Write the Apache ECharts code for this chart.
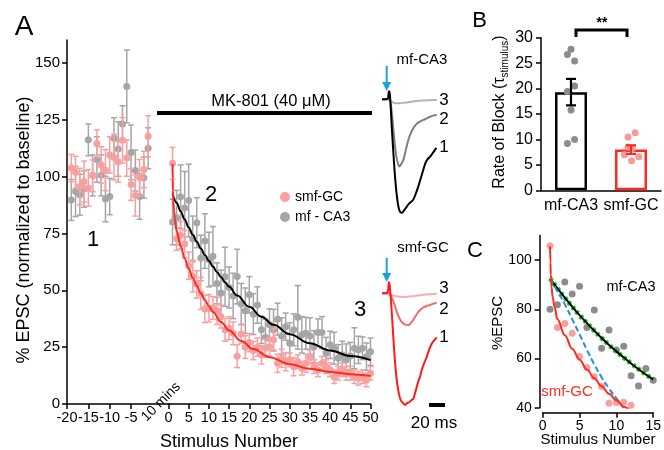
<!DOCTYPE html>
<html><head><meta charset="utf-8">
<script src="https://cdn.jsdelivr.net/npm/echarts@6/dist/echarts.min.js"></script>
<style>html,body{margin:0;padding:0;background:#fff}#c{width:664px;height:450px}</style>
</head><body><div id="c"></div>
<script>
var FONT = 'Liberation Sans, Arial, Helvetica, sans-serif';
function rng(a, b) { var r = []; for (var i = a; i <= b; i++) r.push(i); return r; }

// ---------- Panel A : baseline (before MK-801) ----------
var baseX = rng(-19, -1);
var baseCA3 = [89.7,93.4,92.0,94.5,116.1,100.5,107.5,100.5,90.1,91.2,116.8,112.1,123.1,139.6,110.6,102.6,91.2,99.5,112.4];
var baseCA3Err = [9,11,9,8,7,9,10,9,10,8,9,12,8,16,12,9,10,9,9];
var baseGC = [103.7,101.9,95.6,97.8,95.0,100.3,114.5,105.1,102.8,109.5,108.5,106.5,115.9,108.1,96.5,91.6,99.5,103.1,117.7];
var baseGCErr = [6,7,8,9,8,7,6,8,9,8,10,9,10,8,7,9,8,8,9];
var baseTicks = [-20, -15, -10, -5];

// ---------- Panel A : MK-801 stimuli ----------
var stimX = rng(1, 50);
var mfCA3 = [80.0,81.9,91.1,86.2,89.4,72.6,79.7,64.2,71.6,63.5, 65.0,53.0,48.8,55.9,51.2,47.5,56.0,44.0,41.0,48.0,
             39.5,43.5,32.6,29.3,34.8,32.6,37.3,29.9,34.0,26.7, 32.6,38.1,30.4,31.1,29.9,25.2,31.4,31.4,22.3,26.0,
             24.5,20.1,21.6,19.4,21.1,24.5,23.8,24.5,20.8,23.0];
var mfCA3Err = [10,12,14,16,16,10,11,10,12,12, 13,9,10,13,9,10,12,9,10,8, 9,8,6,8,7,9,7,8,6,9, 7,14,8,7,8,7,6,7,7,6, 7,6,6,7,6,9,6,5,6,6];
var smfGC = [105.8,72.6,74.2,70.3,60.8,56.3,52.6,48.6,41.8,42.1, 42.2,41.0,38.4,32.6,33.3,31.1,21.0,30.8,25.0,27.0,
             23.5,25.0,21.6,24.5,25.2,28.2,17.9,20.1,18.6,19.4, 16.4,18.6,15.7,17.9,20.6,16.4,15.0,17.9,16.4,15.0,
             12.0,13.5,15.0,13.5,13.5,12.0,11.3,12.0,10.6,13.5];
var smfGCErr = [7,5,6,6,6,7,6,7,6,6, 5,6,5,5,5,5,5,4,5,4, 4,4,4,4,4,5,4,4,4,3, 4,3,3,4,3,3,3,3,3,3, 3,3,3,3,3,3,3,3,3,3];

var fitCA3X = [1,2,3,4,5,6,7,8,9,10,11,12,13,14,15,17,20,23,26,30,35,40,45,50];
var fitCA3Y = [92.5,88.5,84.7,81.1,77.6,74.4,71.3,68.3,65.5,62.9,60.4,58.0,55.7,53.5,51.5,47.7,42.7,38.4,34.8,30.7,26.7,23.5,21.1,19.3];
var fitGCX = [1,1.05,1.1,1.2,1.35,1.6,2,3,4,5,6,7,8,9,10,11,13,15,18,21,25,30,35,40,45,50];
var fitGCY = [105.5,99,94,89,85,81,76,69.5,64,59.5,55.5,52,48.7,45.7,43,40.4,36,32.3,27.7,24.2,20.6,17.5,15.5,14.1,13.1,12.3];
var yTicksA = [0, 25, 50, 75, 100, 125, 150];

// ---------- Panel B ----------
var barCats = ['mf-CA3', 'smf-GC'];
var barMean = [19.3, 8.0];
var barSem = [2.6, 0.85];
var dotsCA3 = [27.75, 26.7, 25.4, 20.5, 19.4, 15.8, 10.0, 9.2];
var dotsCA3Jit = [0, -0.06, 0.06, 0.06, -0.06, 0, 0.06, -0.06];
var dotsGC = [11.3, 10.5, 8.5, 8.2, 7.0, 6.6, 5.8];
var dotsGCJit = [0.07, -0.05, -0.05, 0.02, -0.11, 0.13, 0.01];

// ---------- Panel C ----------
var cN = 15;
var monoX = [1,2,3,4,5,6,7,8,9,10,11];
var monoY = [92.5,87.3,82.1,76,69.8,63.5,57.6,52.3,47.8,43.8,39.9];
var yTicksC = [40, 60, 80, 100];

// ---------- example traces (ms, % of peak) ----------
var caT1 = [0,4,7.5,8.5,9.5,10.5,12,14,16,18,20,22,24.5,27,30,33,36,39,42,45,48,51,54,57,60,63,66,68];
var caV1 = [0,0,1,7,6,-2,-22,-45,-66,-82,-93,-99,-100.5,-99,-96,-93,-91,-89,-84,-78,-71,-64,-57,-53,-51,-48,-45,-43];
var caT2 = [0,8,10,12,14,16,18,20,21.6,23.5,26.7,30,32.9,36,39.1,43,47,51.6,56,60,64,68.4];
var caV2 = [0,0,-1,-10,-25,-40,-51,-57,-59.6,-58,-53.7,-44,-36,-30,-25.7,-22,-20,-18.3,-17,-15.5,-14.5,-14];
var caT3 = [0,8,10,13,17,22.5,28,35,43,50,58,68.4];
var caV3 = [0,0,-1,-2.5,-3.5,-3.5,-3,-2.5,-1.5,-1.2,-0.8,-0.6];
var gcT1 = [0,4,7.5,8.5,9.5,10.5,12,14,16,18,20,22,24,26.6,28.8,31,34,37,39.1,42,45,47.5,50,53,55.8,59,62,65,68.4];
var gcV1 = [0,0,2,10,8,0,-15,-38,-60,-76,-87,-94,-98,-100,-101.5,-100,-99,-97,-96,-89,-81,-76,-69,-63,-58,-51,-46,-43,-40];
var gcT2 = [0,8,10,13,16,19,22,24.5,26.6,29,32.9,36,39.1,43,47.5,52,56,60,64,68.4];
var gcV2 = [0,0,-1,-5,-11,-18,-23,-26,-27.3,-28.5,-28.8,-27,-24.2,-19.5,-15.2,-12.8,-11.5,-10.6,-9.5,-8.5];
var gcT3 = [0,8,10,14,20,26.6,33,40,50,60,68.4];
var gcV3 = [0,0,-1,-2,-3,-3.3,-3,-2.5,-1.6,-0.8,-0.3];

// ---------- helpers ----------
function pairs(xs, ys) { return xs.map(function (x, i) { return [x, ys[i]]; }); }
function errData(xs, ys, es) { return xs.map(function (x, i) { return [x, ys[i] - es[i], ys[i] + es[i]]; }); }
function errRender(color, cap, lw) {
  return function (params, api) {
    var x = api.value(0), p1 = api.coord([x, api.value(1)]), p2 = api.coord([x, api.value(2)]);
    var c = typeof color === 'function' ? color(params.dataIndex) : color;
    var st = { stroke: c, lineWidth: lw };
    return { type: 'group', children: [
      { type: 'line', shape: { x1: p1[0], y1: p1[1], x2: p2[0], y2: p2[1] }, style: st },
      { type: 'line', shape: { x1: p1[0] - cap, y1: p1[1], x2: p1[0] + cap, y2: p1[1] }, style: st },
      { type: 'line', shape: { x1: p2[0] - cap, y1: p2[1], x2: p2[0] + cap, y2: p2[1] }, style: st }
    ] };
  };
}
var GRAY = '#a6a6a6', PINK = '#f8a0a0', RED = '#ff2a1f';
var axisLine = { show: true, onZero: false, lineStyle: { color: '#000', width: 1.5 } };
var tick = { show: true, inside: false, length: 5, lineStyle: { color: '#000', width: 1.5 } };
function lbl(size, margin) { return { color: '#000', fontSize: size, fontFamily: FONT, margin: margin, hideOverlap: false }; }
function hiddenAxis(min, max) { return { type: 'value', min: min, max: max, show: false, splitLine: { show: false } }; }

var chart = echarts.init(document.getElementById('c'), null, { renderer: 'canvas' });
var option = {
  animation: false,
  backgroundColor: '#fff',
  textStyle: { fontFamily: FONT },
  grid: [
    { left: 67, top: 40, width: 102.5, height: 364 },       // 0 A baseline
    { left: 168.5, top: 40, width: 202, height: 364 },      // 1 A MK-801
    { left: 541, top: 37.7, width: 120, height: 152.6 },    // 2 B
    { left: 542.7, top: 235.5, width: 114, height: 172.2 }, // 3 C
    { left: 382, top: 85.7, width: 56, height: 132.2 },     // 4 trace mf-CA3
    { left: 382, top: 280.1, width: 56, height: 128.7 }     // 5 trace smf-GC
  ],
  xAxis: [
    { type: 'value', gridIndex: 0, min: -20, max: 4, splitLine: { show: false }, axisLine: axisLine,
      axisTick: Object.assign({}, tick, { customValues: baseTicks }),
      axisLabel: Object.assign(lbl(14.5, 6), { customValues: baseTicks, showMinLabel: true }) },
    { type: 'value', gridIndex: 1, min: 0, max: 50, interval: 5, splitLine: { show: false }, axisLine: axisLine,
      axisTick: tick, axisLabel: lbl(14.5, 6) },
    { type: 'category', gridIndex: 2, data: barCats, axisLine: axisLine, axisTick: { show: false },
      axisLabel: Object.assign(lbl(16, 7), { interval: 0 }) },
    Object.assign(hiddenAxis(-0.5, 1.5), { gridIndex: 2 }),
    { type: 'value', gridIndex: 3, min: 0, max: 15, interval: 5, offset: 5, splitLine: { show: false },
      axisLine: axisLine, axisTick: tick, axisLabel: lbl(14, 6) },
    Object.assign(hiddenAxis(0, 70), { gridIndex: 4 }),
    Object.assign(hiddenAxis(0, 70), { gridIndex: 5 })
  ],
  yAxis: [
    { type: 'value', gridIndex: 0, min: 0, max: 160, splitLine: { show: false }, axisLine: axisLine,
      axisTick: Object.assign({}, tick, { customValues: yTicksA }),
      axisLabel: Object.assign(lbl(15, 7), { customValues: yTicksA }) },
    Object.assign(hiddenAxis(0, 160), { gridIndex: 1 }),
    { type: 'value', gridIndex: 2, min: 0, max: 30, interval: 5, splitLine: { show: false }, axisLine: axisLine,
      axisTick: tick, axisLabel: lbl(16, 8) },
    { type: 'value', gridIndex: 3, min: 40, max: 110, offset: 3, splitLine: { show: false }, axisLine: axisLine,
      axisTick: Object.assign({}, tick, { customValues: yTicksC }),
      axisLabel: Object.assign(lbl(14, 8), { customValues: yTicksC }) },
    Object.assign(hiddenAxis(-105, 12), { gridIndex: 4 }),
    Object.assign(hiddenAxis(-105, 12), { gridIndex: 5 })
  ],
  legend: {
    data: ['smf-GC', 'mf - CA3'], orient: 'vertical', left: 275, top: 185, itemWidth: 10, itemHeight: 10,
    itemGap: 6, icon: 'circle', selectedMode: false,
    textStyle: { fontSize: 14, color: '#000', fontFamily: FONT }
  },
  series: [
    // ---- A baseline
    { type: 'custom', name: 'errCA3b', xAxisIndex: 0, yAxisIndex: 0, renderItem: errRender(GRAY, 3, 1.5),
      data: errData(baseX, baseCA3, baseCA3Err), encode: { x: 0, y: [1, 2] }, z: 2 },
    { type: 'scatter', name: 'mf - CA3', xAxisIndex: 0, yAxisIndex: 0, symbolSize: 7,
      itemStyle: { color: GRAY, opacity: 1 }, data: pairs(baseX, baseCA3), z: 3 },
    { type: 'custom', name: 'errGCb', xAxisIndex: 0, yAxisIndex: 0, renderItem: errRender(PINK, 3, 1.5),
      data: errData(baseX, baseGC, baseGCErr), encode: { x: 0, y: [1, 2] }, z: 4 },
    { type: 'scatter', name: 'smf-GC', xAxisIndex: 0, yAxisIndex: 0, symbolSize: 7,
      itemStyle: { color: PINK, opacity: 1 }, data: pairs(baseX, baseGC), z: 5 },
    // ---- A MK-801
    { type: 'custom', name: 'errCA3', xAxisIndex: 1, yAxisIndex: 1, renderItem: errRender(GRAY, 3, 1.5),
      data: errData(stimX, mfCA3, mfCA3Err), encode: { x: 0, y: [1, 2] }, z: 2 },
    { type: 'scatter', name: 'mf - CA3', xAxisIndex: 1, yAxisIndex: 1, symbolSize: 7,
      itemStyle: { color: GRAY, opacity: 1 }, data: pairs(stimX, mfCA3), z: 3 },
    { type: 'custom', name: 'errGC', xAxisIndex: 1, yAxisIndex: 1, renderItem: errRender(PINK, 3, 1.5),
      data: errData(stimX, smfGC, smfGCErr), encode: { x: 0, y: [1, 2] }, z: 4 },
    { type: 'scatter', name: 'smf-GC', xAxisIndex: 1, yAxisIndex: 1, symbolSize: 7,
      itemStyle: { color: PINK, opacity: 1 }, data: pairs(stimX, smfGC), z: 5 },
    { type: 'line', name: 'fitCA3', xAxisIndex: 1, yAxisIndex: 1, data: pairs(fitCA3X, fitCA3Y), smooth: 0.4,
      smoothMonotone: 'x', showSymbol: false, lineStyle: { color: '#000', width: 2 }, z: 6 },
    { type: 'line', name: 'fitGC', xAxisIndex: 1, yAxisIndex: 1, data: pairs(fitGCX, fitGCY), smooth: 0.4,
      smoothMonotone: 'x', showSymbol: false, lineStyle: { color: RED, width: 2 }, z: 6 },
    // ---- B
    { type: 'bar', name: 'barB', xAxisIndex: 2, yAxisIndex: 2, barWidth: 32,
      data: barMean.map(function (v, i) { return { value: v, itemStyle: { color: '#fff', borderColor: i === 0 ? '#000' : RED, borderWidth: 2.5 } }; }), z: 2 },
    { type: 'scatter', name: 'dotsCA3', xAxisIndex: 3, yAxisIndex: 2, symbolSize: 7, itemStyle: { color: '#8c8c8c', opacity: 1 },
      data: dotsCA3.map(function (v, i) { return [0 + dotsCA3Jit[i], v]; }), z: 3 },
    { type: 'scatter', name: 'dotsGC', xAxisIndex: 3, yAxisIndex: 2, symbolSize: 7, itemStyle: { color: '#f99a9a', opacity: 1 },
      data: dotsGC.map(function (v, i) { return [1 + dotsGCJit[i], v]; }), z: 3 },
    { type: 'custom', name: 'errB', xAxisIndex: 2, yAxisIndex: 2,
      renderItem: errRender(function (i) { return i === 0 ? '#000' : RED; }, 5, 2.2),
      data: barMean.map(function (v, i) { return [i, v - barSem[i], v + barSem[i]]; }), encode: { x: 0, y: [1, 2] }, z: 4 },
    // ---- C
    { type: 'scatter', name: 'cCA3', xAxisIndex: 4, yAxisIndex: 3, symbolSize: 7, itemStyle: { color: '#8c8c8c', opacity: 1 },
      data: pairs(stimX.slice(0, cN), mfCA3.slice(0, cN)), z: 2 },
    { type: 'scatter', name: 'cGC', xAxisIndex: 4, yAxisIndex: 3, symbolSize: 7, itemStyle: { color: PINK, opacity: 1 },
      data: pairs(stimX.slice(0, cN), smfGC.slice(0, cN)), z: 2 },
    { type: 'line', name: 'cFitCA3g', xAxisIndex: 4, yAxisIndex: 3, data: pairs(fitCA3X.slice(0, cN), fitCA3Y.slice(0, cN)),
      smooth: 0.4, showSymbol: false, lineStyle: { color: '#22c32a', width: 5, type: [3, 3] }, z: 3 },
    { type: 'line', name: 'cFitCA3', xAxisIndex: 4, yAxisIndex: 3, data: pairs(fitCA3X.slice(0, cN), fitCA3Y.slice(0, cN)),
      smooth: 0.4, showSymbol: false, lineStyle: { color: '#000', width: 2 }, z: 4 },
    { type: 'line', name: 'cMono', xAxisIndex: 4, yAxisIndex: 3, data: pairs(monoX, monoY), smooth: 0.4, showSymbol: false,
      lineStyle: { color: '#1f8fd6', width: 2, type: [6, 3] }, z: 4 },
    { type: 'line', name: 'cFitGC', xAxisIndex: 4, yAxisIndex: 3, data: pairs(fitGCX, fitGCY), smooth: 0.4,
      smoothMonotone: 'x', showSymbol: false, clip: true, lineStyle: { color: RED, width: 2 }, z: 4 },
    // ---- traces mf-CA3
    { type: 'line', name: 'ca3', xAxisIndex: 5, yAxisIndex: 4, data: pairs(caT3, caV3), showSymbol: false, smooth: 0.3, lineStyle: { color: '#b3b3b3', width: 2 } },
    { type: 'line', name: 'ca2', xAxisIndex: 5, yAxisIndex: 4, data: pairs(caT2, caV2), showSymbol: false, smooth: 0.3, lineStyle: { color: '#7f7f7f', width: 2 } },
    { type: 'line', name: 'ca1', xAxisIndex: 5, yAxisIndex: 4, data: pairs(caT1, caV1), showSymbol: false, smooth: 0.3, lineStyle: { color: '#000', width: 2 } },
    // ---- traces smf-GC
    { type: 'line', name: 'gc3', xAxisIndex: 6, yAxisIndex: 5, data: pairs(gcT3, gcV3), showSymbol: false, smooth: 0.3, lineStyle: { color: '#f7aeae', width: 2 } },
    { type: 'line', name: 'gc2', xAxisIndex: 6, yAxisIndex: 5, data: pairs(gcT2, gcV2), showSymbol: false, smooth: 0.3, lineStyle: { color: '#f26a6a', width: 2 } },
    { type: 'line', name: 'gc1', xAxisIndex: 6, yAxisIndex: 5, data: pairs(gcT1, gcV1), showSymbol: false, smooth: 0.3, lineStyle: { color: '#ff1a1a', width: 2 } }
  ],
  graphic: []
};

function txt(x, y, s, size, extra) {
  return Object.assign({ type: 'text', x: x, y: y, silent: true,
    style: Object.assign({ text: s, fontSize: size, fontFamily: FONT, fill: '#000', align: 'center', verticalAlign: 'middle' }, extra || {}) });
}
function rtxt(x, y, s, size) { var t = txt(x, y, s, size); t.rotation = Math.PI / 2; return t; }
function arrow(x, y0, y1) {
  return { type: 'group', silent: true, children: [
    { type: 'line', shape: { x1: x, y1: y0, x2: x, y2: y1 - 6 }, style: { stroke: '#1ba1e2', lineWidth: 2 } },
    { type: 'polygon', shape: { points: [[x - 4.5, y1 - 9], [x + 4.5, y1 - 9], [x, y1]] }, style: { fill: '#1ba1e2' } }
  ] };
}
option.graphic = [
  txt(24, 27, 'A', 28), txt(479.5, 21, 'B', 22), txt(475, 251, 'C', 22),
  rtxt(24, 230, '% EPSC (normalized to baseline)', 18),
  txt(229, 442, 'Stimulus Number', 18),
  { type: 'text', x: 161, y: 402, rotation: Math.PI / 4, silent: true,
    style: { text: '10 mins', fontSize: 14, fontFamily: FONT, fill: '#000', align: 'center', verticalAlign: 'middle' } },
  { type: 'line', silent: true, shape: { x1: 157, y1: 113, x2: 372, y2: 113 }, style: { stroke: '#000', lineWidth: 4 } },
  txt(271, 101, 'MK-801 (40 \u03bcM)', 16.5),
  txt(93, 240, '1', 22), txt(211, 195, '2', 22), txt(360, 310, '3', 22),
  // traces annotations
  txt(422, 60, 'mf-CA3', 15), txt(423, 248, 'smf-GC', 15),
  txt(444, 100, '3', 17), txt(444, 119, '2', 17), txt(444, 147, '1', 17),
  txt(444, 288, '3', 17), txt(444, 309, '2', 17), txt(444, 337, '1', 17),
  arrow(386.7, 66, 91), arrow(386.7, 258, 282),
  { type: 'rect', silent: true, shape: { x: 429, y: 403, width: 16, height: 4 }, style: { fill: '#000' } },
  txt(434, 423, '20 ms', 17),
  // B
  { type: 'polyline', silent: true, shape: { points: [[576, 37], [576, 30], [627, 30], [627, 37]] }, style: { stroke: '#000', lineWidth: 3, fill: null } },
  txt(602, 23, '**', 14, { fontWeight: 'bold' }),
  { type: 'text', x: 500, y: 112, rotation: Math.PI / 2, silent: true,
    style: { text: '{a|Rate of Block (\u03c4}{s|stimulus}{a|)}', align: 'center', verticalAlign: 'middle',
      rich: { a: { fontSize: 16, fontFamily: FONT, fill: '#000', lineHeight: 20 },
              s: { fontSize: 10, fontFamily: FONT, fill: '#000', verticalAlign: 'bottom', lineHeight: 20, padding: [8, 0, 0, 0] } } } },
  // C
  rtxt(498, 323, '%EPSC', 15),
  txt(598, 440, 'Stimulus Number', 15),
  txt(631, 287, 'mf-CA3', 14.5),
  txt(567, 392, 'smf-GC', 15, { fill: RED })
];
chart.setOption(option);
</script></body></html>
